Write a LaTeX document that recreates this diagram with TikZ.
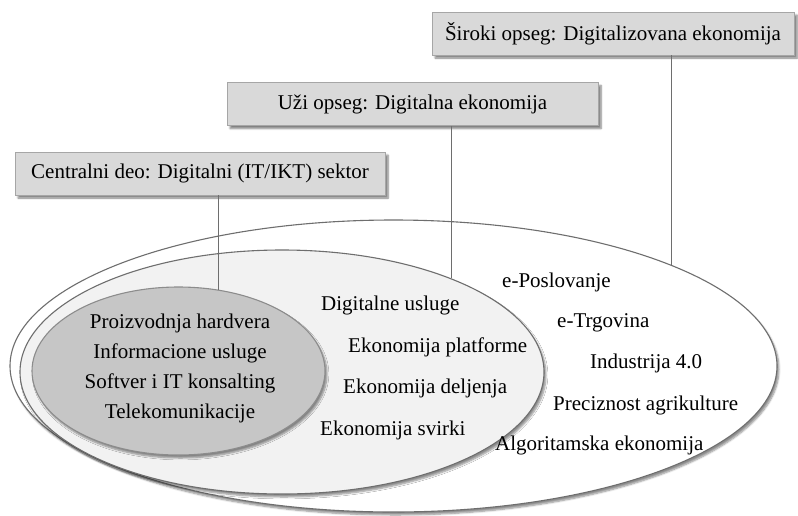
\documentclass[tikz,border=0pt]{standalone}
\usepackage{fontspec}
\setmainfont{Liberation Serif}
\usetikzlibrary{shapes.geometric,shadows.blur}
\definecolor{boxgray}{HTML}{D9D9D9}
\definecolor{coregray}{HTML}{C6C6C6}
\definecolor{midgray}{HTML}{F2F2F2}
\definecolor{edgegray}{HTML}{6E6E6E}
\tikzset{
  txt/.style={font=\fontsize{21}{30}\selectfont, inner sep=0pt},
  scopebox/.style={draw=black!35, fill=boxgray, line width=0.8pt, minimum height=43, inner sep=0pt,
    font=\fontsize{21}{30}\selectfont,
    blur shadow={shadow xshift=3pt, shadow yshift=-3pt, shadow blur steps=6, shadow opacity=50}},
  ring/.style={ellipse, draw=edgegray, line width=1.1pt, inner sep=0pt,
    blur shadow={shadow xshift=2pt, shadow yshift=-3pt, shadow blur steps=6, shadow opacity=45}},
  link/.style={draw=edgegray, line width=1.1pt}
}
\begin{document}
\begin{tikzpicture}[x=1pt,y=-1pt]
  \useasboundingbox (0,0) rectangle (798,515);
  % ellipses, outer to inner
  \node[ring, fill=white, minimum width=767, minimum height=292] (outer) at (393.5,366) {};
  \node[ring, fill=midgray, minimum width=524, minimum height=244] (middle) at (282,372) {};
  \node[ring, fill=coregray, draw=black!45, minimum width=293, minimum height=168] (core) at (178.5,371) {};

  % scope boxes
  \node[scopebox, minimum width=370] (corebox) at (200,173.5) {Centralni deo: Digitalni (IT/IKT) sektor};
  \node[scopebox, minimum width=371] (narrowbox) at (412.5,104) {Uži opseg: Digitalna ekonomija};
  \node[scopebox, minimum width=362] (widebox) at (613,33.5) {Široki opseg: Digitalizovana ekonomija};

  \draw[link] (core.64.6 |- corebox.south) -- (core.64.6);
  \draw[link] (middle.29.4 |- narrowbox.south) -- (middle.29.4);
  \draw[link] (outer.20.4 |- widebox.south) -- (outer.20.4);

  % core sector
  \node[txt, align=center] (coretext) at (180,368) {Proizvodnja hardvera\\Informacione usluge\\Softver i IT konsalting\\Telekomunikacije};

  % narrow scope
  \node[txt, anchor=west] (dig) at (321,305) {Digitalne usluge};
  \node[txt, anchor=west] (plat) at (348,347) {Ekonomija platforme};
  \node[txt, anchor=west] (delj) at (343,388) {Ekonomija deljenja};
  \node[txt, anchor=west] (svirk) at (320,430) {Ekonomija svirki};

  % broad scope
  \node[txt, anchor=west] (poslov) at (502,282) {e-Poslovanje};
  \node[txt, anchor=west] (trgov) at (557,323) {e-Trgovina};
  \node[txt, anchor=west] (ind) at (590,363) {Industrija 4.0};
  \node[txt, anchor=west] (prec) at (553,405) {Preciznost agrikulture};
  \node[txt, anchor=west] (algo) at (495,445) {Algoritamska ekonomija};
\end{tikzpicture}
\end{document}
